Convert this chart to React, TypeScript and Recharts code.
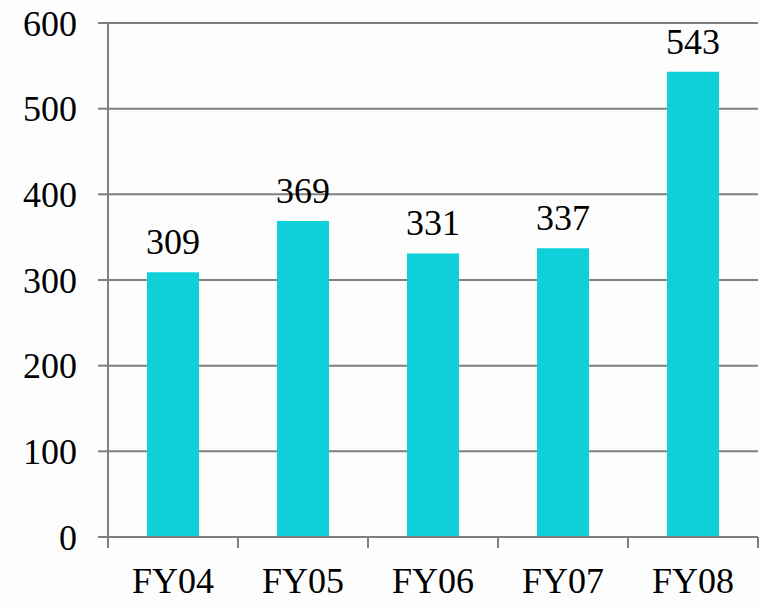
import React from 'react';
import { BarChart, Bar, XAxis, YAxis, CartesianGrid, LabelList } from 'recharts';

const years = ['FY04', 'FY05', 'FY06', 'FY07', 'FY08'];
const counts = [309, 369, 331, 337, 543];
const yTicks = [0, 100, 200, 300, 400, 500, 600];

const data = years.map((year, i) => ({ year, count: counts[i] }));

const FONT = 'Liberation Serif';
const GRAY = '#7f7f7f';
const WIDTH = 761;
const HEIGHT = 610;
const LEFT = 108;
const RIGHT = 3;
const BAND = (WIDTH - LEFT - RIGHT) / years.length;
const X_MARGIN = 30;
const textStyle = { fontFamily: FONT, fontSize: 36, fill: '#000' };

// ticks sit between the categories, not under the bars
function XTick({ x, y, payload, index }: any) {
  const base = y - X_MARGIN;
  const left = x - BAND / 2;
  return (
    <g>
      <line x1={left} y1={base} x2={left} y2={base + 11} stroke={GRAY} strokeWidth={2} />
      {index === years.length - 1 && (
        <line x1={left + BAND} y1={base} x2={left + BAND} y2={base + 11} stroke={GRAY} strokeWidth={2} />
      )}
      <text x={x} y={y} dy="0.71em" textAnchor="middle" style={textStyle}>
        {payload.value}
      </text>
    </g>
  );
}

function YTick({ x, y, payload }: any) {
  return (
    <text x={x} y={y} dy="0.355em" textAnchor="end" style={textStyle}>
      {payload.value}
    </text>
  );
}

function TopLabel({ x, y, width, value }: any) {
  return (
    <text x={x + width / 2} y={y - 18} textAnchor="middle" style={textStyle}>
      {value}
    </text>
  );
}

export default function App() {
  return (
    <div style={{ position: 'absolute', left: 0, top: 0, width: WIDTH, height: HEIGHT, background: '#fdfdfd' }}>
      <BarChart
        width={WIDTH}
        height={HEIGHT}
        data={data}
        barCategoryGap="30%"
        margin={{ top: 23, right: RIGHT, left: 0, bottom: 13 }}
      >
        <CartesianGrid vertical={false} stroke={GRAY} strokeWidth={2} />
        <XAxis
          dataKey="year"
          tickLine={false}
          tickSize={0}
          tickMargin={X_MARGIN}
          interval={0}
          height={60}
          axisLine={{ stroke: GRAY, strokeWidth: 2 }}
          tick={<XTick />}
        />
        <YAxis
          domain={[0, 600]}
          ticks={yTicks}
          width={LEFT}
          tickSize={10}
          tickMargin={21}
          axisLine={{ stroke: GRAY, strokeWidth: 2 }}
          tickLine={{ stroke: GRAY, strokeWidth: 2 }}
          tick={<YTick />}
        />
        <Bar dataKey="count" fill="#0fd0d8" isAnimationActive={false}>
          <LabelList dataKey="count" content={<TopLabel />} />
        </Bar>
      </BarChart>
    </div>
  );
}
